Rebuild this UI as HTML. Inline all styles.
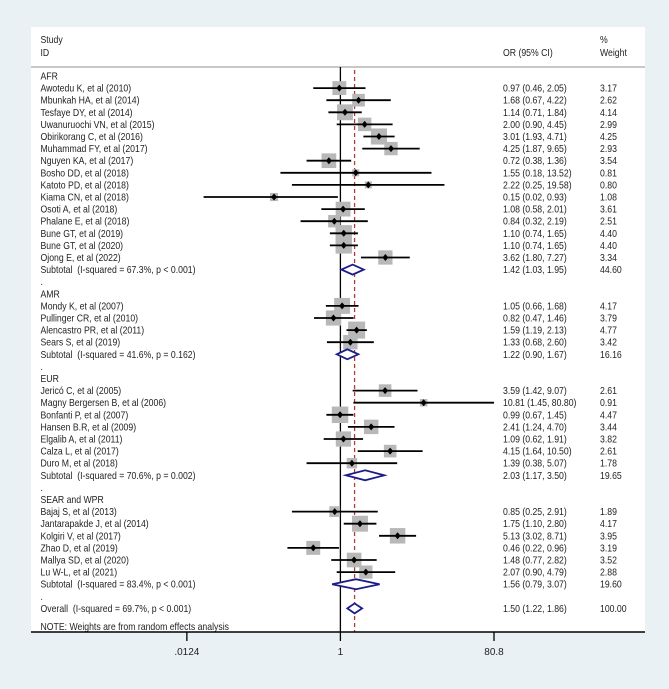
<!DOCTYPE html>
<html><head><meta charset="utf-8"><style>
html,body{margin:0;padding:0;background:#e9f1f4;}
svg{display:block;font-family:"Liberation Sans",Arial,sans-serif;}
text{white-space:pre;}
</style></head><body>
<svg id="chart" width="669" height="689" viewBox="0 0 669 689">
<rect x="0" y="0" width="669" height="689" fill="#e9f1f4"/>
<rect x="31" y="27" width="614" height="605" fill="#ffffff"/>
<g id="layer"></g>
</svg>
<script>
const labels = ["AFR","Awotedu K, et al (2010)","Mbunkah HA, et al (2014)","Tesfaye DY, et al (2014)","Uwanuruochi VN, et al (2015)","Obirikorang C, et al (2016)","Muhammad FY, et al (2017)","Nguyen KA, et al (2017)","Bosho DD, et al (2018)","Katoto PD, et al (2018)","Kiama CN, et al (2018)","Osoti A, et al (2018)","Phalane E, et al (2018)","Bune GT, et al (2019)","Bune GT, et al (2020)","Ojong E, et al (2022)","Subtotal  (I-squared = 67.3%, p < 0.001)",".",
"AMR","Mondy K, et al (2007)","Pullinger CR, et al (2010)","Alencastro PR, et al (2011)","Sears S, et al (2019)","Subtotal  (I-squared = 41.6%, p = 0.162)",".",
"EUR","Jericó C, et al (2005)","Magny Bergersen B, et al (2006)","Bonfanti P, et al (2007)","Hansen B.R, et al (2009)","Elgalib A, et al (2011)","Calza L, et al (2017)","Duro M, et al (2018)","Subtotal  (I-squared = 70.6%, p = 0.002)",".",
"SEAR and WPR","Bajaj S, et al (2013)","Jantarapakde J, et al (2014)","Kolgiri V, et al (2017)","Zhao D, et al (2019)","Mallya SD, et al (2020)","Lu W-L, et al (2021)","Subtotal  (I-squared = 83.4%, p < 0.001)",".",
"Overall  (I-squared = 69.7%, p < 0.001)"];
const kinds = ["h","s","s","s","s","s","s","s","s","s","s","s","s","s","s","s","d","g","h","s","s","s","s","d","g","h","s","s","s","s","s","s","s","d","g","h","s","s","s","s","s","s","d","g","d"];
const orVals = [null,0.97,1.68,1.14,2.00,3.01,4.25,0.72,1.55,2.22,0.15,1.08,0.84,1.10,1.10,3.62,1.42,null,null,1.05,0.82,1.59,1.33,1.22,null,null,3.59,10.81,0.99,2.41,1.09,4.15,1.39,2.03,null,null,0.85,1.75,5.13,0.46,1.48,2.07,1.56,null,1.50];
const lowVals = [null,0.46,0.67,0.71,0.90,1.93,1.87,0.38,0.18,0.25,0.02,0.58,0.32,0.74,0.74,1.80,1.03,null,null,0.66,0.47,1.19,0.68,0.90,null,null,1.42,1.45,0.67,1.24,0.62,1.64,0.38,1.17,null,null,0.25,1.10,3.02,0.22,0.77,0.90,0.79,null,1.22];
const highVals = [null,2.05,4.22,1.84,4.45,4.71,9.65,1.36,13.52,19.58,0.93,2.01,2.19,1.65,1.65,7.27,1.95,null,null,1.68,1.46,2.13,2.60,1.67,null,null,9.07,80.80,1.45,4.70,1.91,10.50,5.07,3.50,null,null,2.91,2.80,8.71,0.96,2.82,4.79,3.07,null,1.86];
const weights = [null,3.17,2.62,4.14,2.99,4.25,2.93,3.54,0.81,0.80,1.08,3.61,2.51,4.40,4.40,3.34,44.60,null,null,4.17,3.79,4.77,3.42,16.16,null,null,2.61,0.91,4.47,3.44,3.82,2.61,1.78,19.65,null,null,1.89,4.17,3.95,3.19,3.52,2.88,19.60,null,100.00];
const tickVals = [0.0124,1,80.8];
const tickLabels = [".0124","1","80.8"];

const NS="http://www.w3.org/2000/svg";
const layer=document.getElementById('layer');
const X0=340.4, PX=(494-340.4)/Math.log(80.8);
function xs(v){return X0+PX*Math.log(v);}
function ys(i){return 76+i*12.1;}
function mk(tag,attrs){const e=document.createElementNS(NS,tag);for(const k in attrs)e.setAttribute(k,attrs[k]);layer.appendChild(e);return e;}
function txt(x,y,s,name){const t=mk('text',{transform:`translate(${x},${y}) scale(0.87,1)`,'font-size':'10',fill:'#222'});t.textContent=s;


return t;}

const LX=40.5, OX=503, WX=600;
txt(LX,43,"Study","header-study");
txt(LX,56,"ID","header-id");
txt(OX,56,"OR (95% CI)","header-or");
txt(WX,43,"%","header-percent");
txt(WX,56,"Weight","header-weight");
let hl=mk('line',{x1:31,x2:645,y1:67,y2:67,stroke:'#c8c8c8','stroke-width':2});



let nl=mk('line',{x1:xs(1),x2:xs(1),y1:67,y2:632,stroke:'#000','stroke-width':1.3});


const ovr=orVals[orVals.length-1];
let dl=mk('line',{x1:xs(ovr),x2:xs(ovr),y1:70,y2:632,stroke:'#b03a3a','stroke-width':1.3,'stroke-dasharray':'4,3'});



labels.forEach((lab,i)=>{
  const y=ys(i); const k=kinds[i];
  txt(LX,y+3.5,lab,'row-label');
  if(orVals[i]==null) return;
  const cx=xs(orVals[i]), lx=xs(lowVals[i]), hx=xs(highVals[i]);
  if(k==='s'){
    const s=7.8*Math.sqrt(weights[i]);
    let b=mk('rect',{x:cx-s/2,y:y-s/2,width:s,height:s,fill:'#b8b8b8'});
    
    
    let l=mk('line',{x1:lx,x2:hx,y1:y,y2:y,stroke:'#000','stroke-width':1.8});
    
    
    let p=mk('polygon',{points:`${cx-3},${y} ${cx},${y-3.5} ${cx+3},${y} ${cx},${y+3.5}`,fill:'#000'});
    
    
  } else {
    let d=mk('polygon',{points:`${lx},${y} ${cx},${y-5} ${hx},${y} ${cx},${y+5}`,fill:'#fff',stroke:'#1c1c8a','stroke-width':1.8});
    
    
  }
  const f=v=>v.toFixed(2);
  txt(OX,y+3.5,`${f(orVals[i])} (${f(lowVals[i])}, ${f(highVals[i])})`,'or-ci-value');
  txt(WX,y+3.5,f(weights[i]),'weight-value');
});

txt(LX,630,"NOTE: Weights are from random effects analysis","footnote");
let ax=mk('line',{x1:31,x2:645,y1:632,y2:632,stroke:'#000','stroke-width':1.4});


tickVals.forEach((v,i)=>{
  let t=mk('line',{x1:xs(v),x2:xs(v),y1:632,y2:641,stroke:'#000','stroke-width':1.3});
  
  
  const l=mk('text',{x:xs(v),y:655,'font-size':'10',fill:'#222','text-anchor':'middle'});
  l.textContent=tickLabels[i];
  
  
});
</script>
</body></html>
